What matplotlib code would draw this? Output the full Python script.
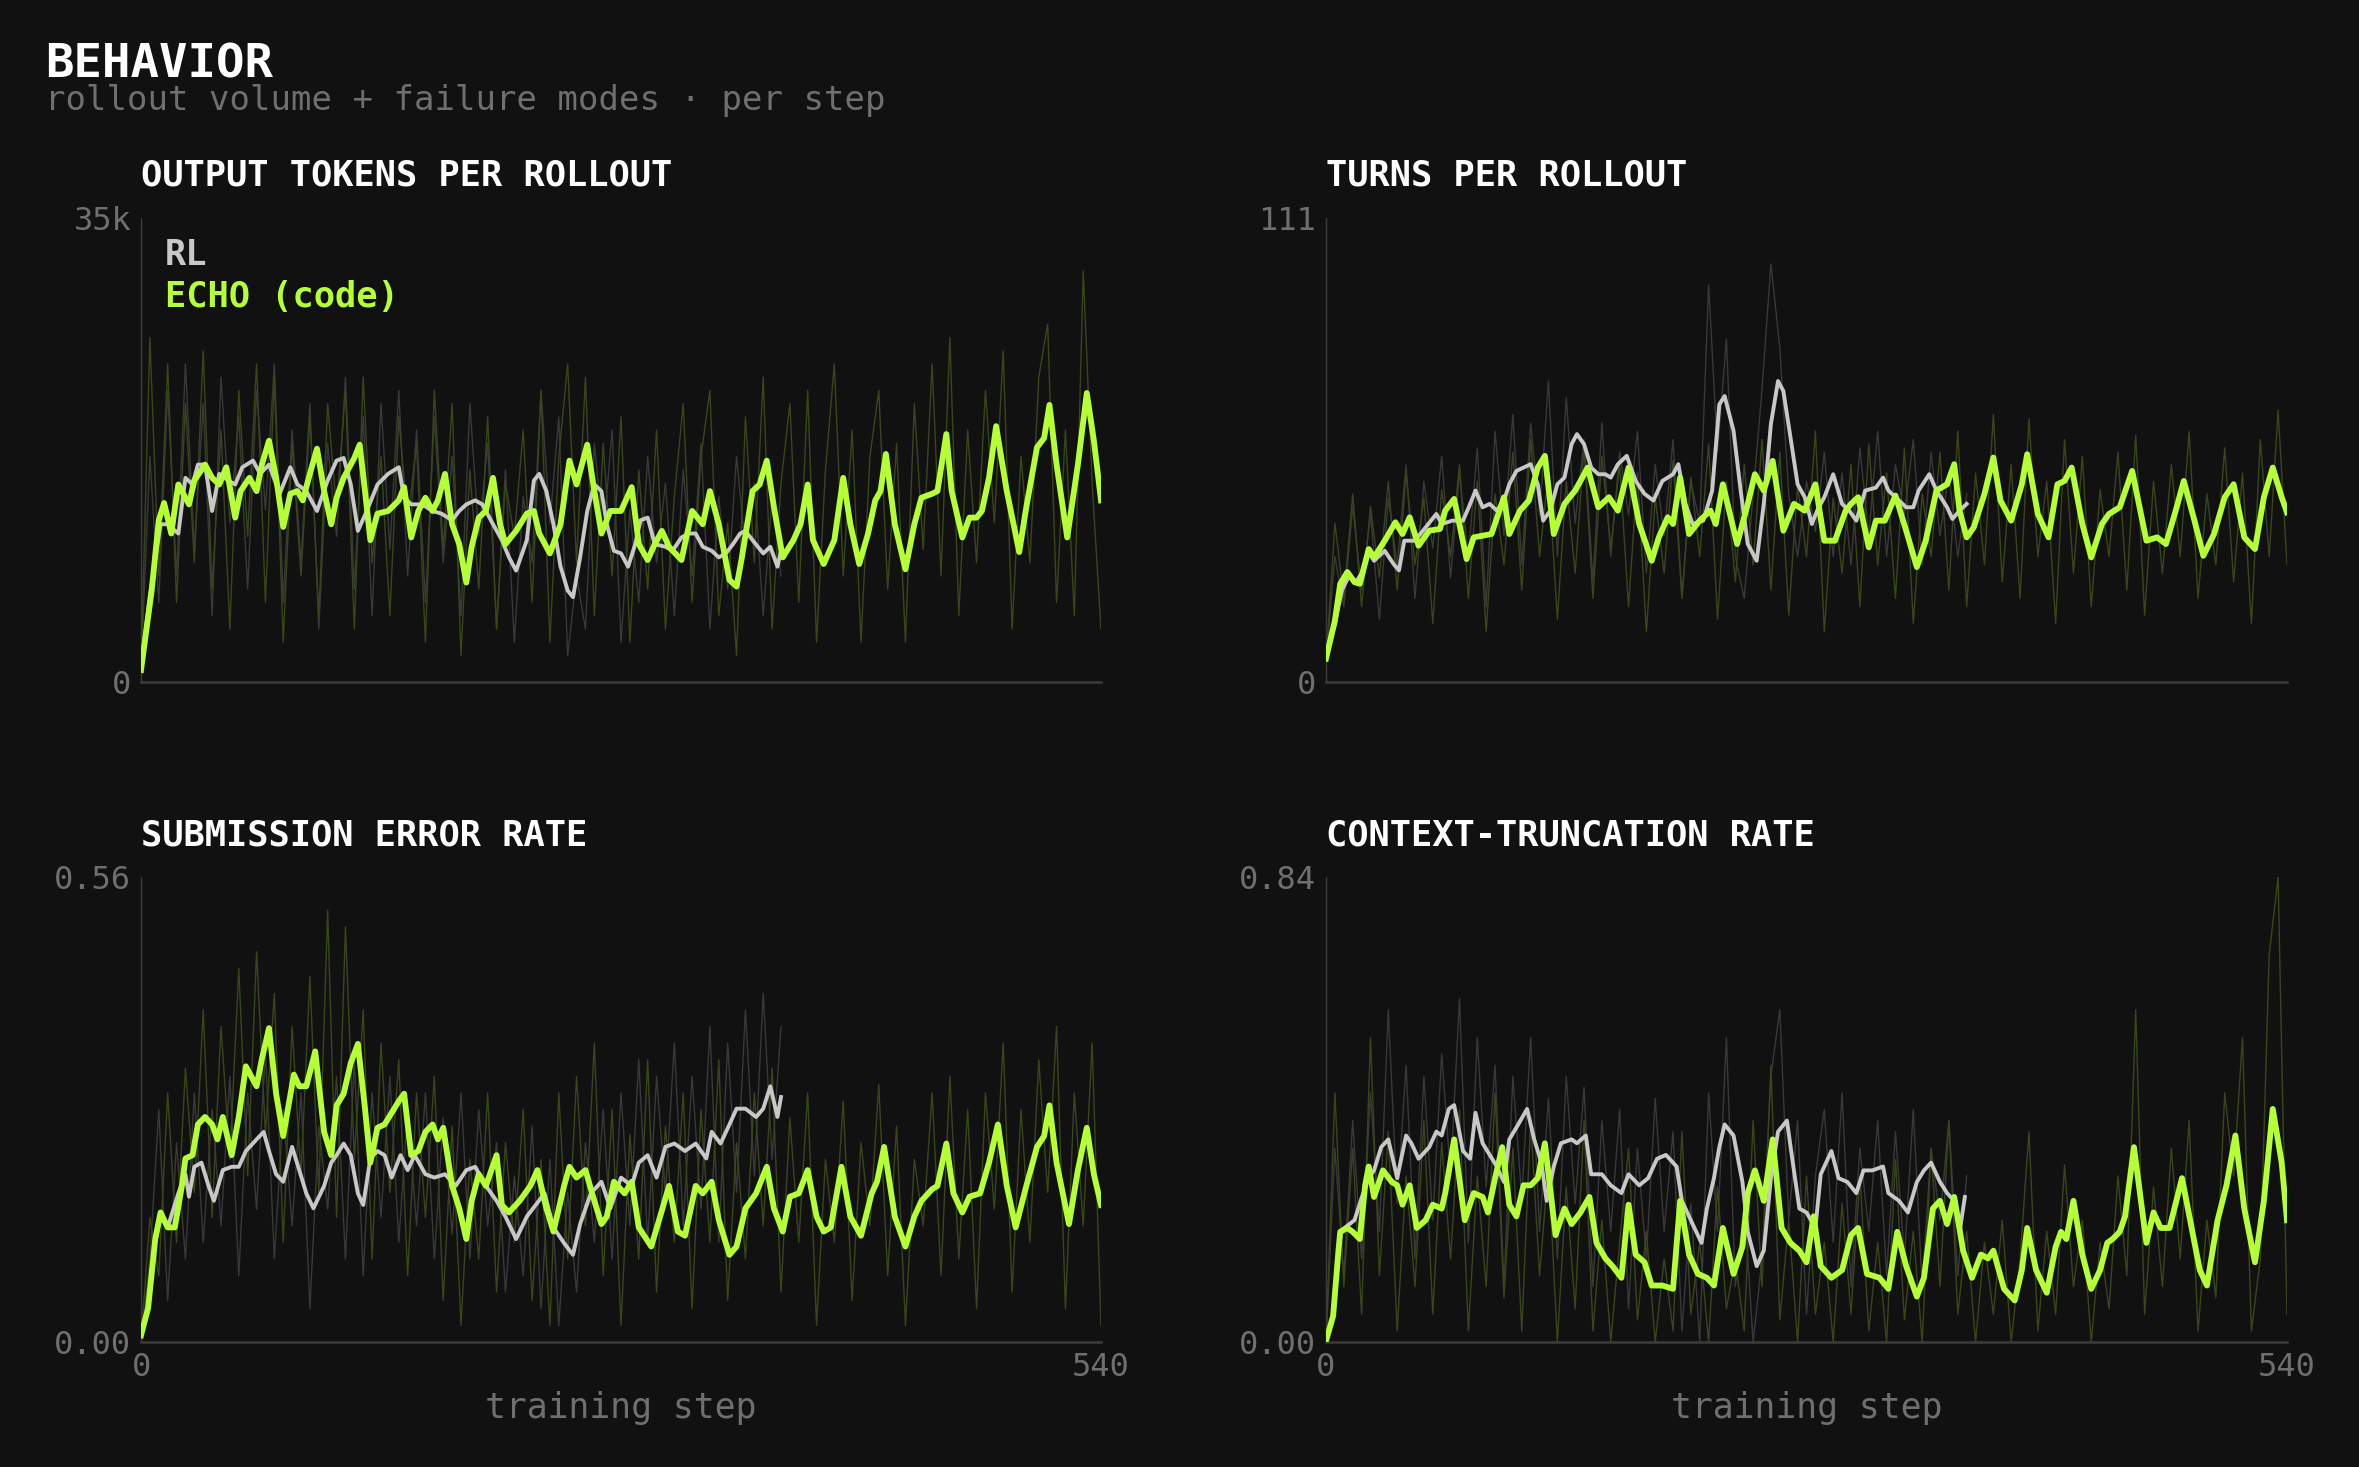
import numpy as np
import matplotlib
matplotlib.use("Agg")
import matplotlib.pyplot as plt

# ---------------- data ----------------
# smoothed curves: (training step, value)

# output tokens per rollout (thousands)
tok_echo = [(0,0.9),(6,6.9),(10,12.2),(13,13.5),(17,11.2),(21,14.9),(27,13.4),(30,15.2),(36,16.4),(40,15.4),(44,14.9),(48,16.2),(53,12.4),(56,14.4),(61,15.4),(65,14.4),(68,16.4),(72,18.2),(76,15.4),(80,11.7),(84,14.2),(88,14.4),(91,13.7),(95,15.7),(99,17.6),(103,14.4),(107,11.9),(110,13.9),(114,15.4),(120,16.9),(123,17.9),(126,14.4),(129,10.7),(133,12.7),(139,12.9),(145,13.7),(148,14.7),(152,10.9),(156,12.9),(160,13.9),(164,12.9),(167,13.7),(171,15.7),(175,11.9),(179,10.4),(183,7.5),(186,10.2),(190,12.4),(194,12.9),(198,15.4),(202,11.9),(205,10.4),(211,11.4),(217,12.7),(221,12.9),(224,11.2),(230,9.7),(236,11.9),(241,16.7),(245,14.9),(251,17.9),(255,14.4),(259,11.2),(264,12.9),(270,12.9),(276,14.7),(280,10.4),(285,9.2),(289,10.4),(293,11.4),(297,10.2),(304,9.2),(310,12.9),(316,11.9),(320,14.4),(325,11.9),(331,7.7),(335,7.2),(338,9.4),(344,14.4),(348,14.9),(352,16.7),(356,13.2),(361,9.4),(367,10.7),(371,11.9),(375,14.9),(378,10.7),(384,8.9),(390,10.7),(395,15.4),(399,11.9),(404,8.9),(409,11.2),(413,13.7),(416,14.4),(419,17.2),(424,11.9),(430,8.5),(435,11.9),(439,13.9),(445,14.2),(448,14.4),(453,18.7),(456,14.4),(462,10.9),(466,12.4),(470,12.4),(473,12.9),(477,15.4),(481,19.3),(487,14.4),(494,9.8),(498,13.2),(504,17.7),(508,18.4),(511,20.9),(515,16.4),(521,10.9),(527,16.4),(532,21.8),(536,18.2),(540,13.7)]
tok_rl = [(0,1.0),(5,6.5),(11,11.9),(15,11.9),(21,11.2),(25,15.4),(29,14.9),(32,16.4),(36,16.4),(40,12.9),(44,15.7),(49,15.2),(53,14.9),(57,16.2),(63,16.7),(67,15.7),(72,16.4),(78,14.2),(84,16.2),(88,14.9),(93,14.4),(99,12.9),(105,15.2),(110,16.7),(114,16.9),(118,14.9),(122,11.4),(127,12.9),(133,14.9),(139,15.7),(145,16.2),(148,13.9),(152,13.4),(158,13.4),(164,12.9),(169,12.7),(175,12.2),(179,12.9),(183,13.4),(188,13.7),(192,13.4),(198,11.9),(203,10.7),(207,9.4),(211,8.4),(217,10.7),(221,15.2),(224,15.7),(228,14.4),(232,11.9),(236,8.7),(240,6.9),(243,6.4),(247,9.4),(251,12.9),(255,14.9),(259,14.4),(262,11.9),(266,9.9),(270,9.7),(274,8.7),(278,10.4),(281,12.2),(285,12.4),(289,10.4),(295,10.2),(299,9.9),(304,10.9),(308,11.2),(312,11.2),(316,10.2),(321,9.9),(325,9.4),(329,9.7),(333,10.4),(337,11.2),(340,11.4),(344,10.7),(350,9.7),(354,10.2),(358,8.7),(360,9.9)]

# turns per rollout
turn_echo = [(0,5.6),(5,14.7),(8,23.5),(12,26.3),(16,23.9),(19,23.5),(24,31.8),(27,29.8),(33,33.8),(39,38.2),(43,35.4),(47,39.4),(52,32.6),(58,36.2),(64,36.6),(67,41.0),(72,43.8),(79,29.4),(83,34.6),(88,35.0),(93,35.4),(100,44.2),(103,35.4),(109,41.0),(114,43.4),(119,51.3),(123,54.1),(128,35.4),(134,42.6),(140,45.8),(143,48.1),(147,51.3),(153,41.8),(159,44.2),(164,41.0),(170,51.3),(176,37.8),(183,29.0),(187,34.6),(192,39.4),(195,37.8),(199,48.9),(204,35.4),(210,38.6),(216,41.0),(219,37.8),(223,47.3),(231,33.0),(237,42.6),(241,49.7),(246,45.8),(251,52.9),(257,36.2),(263,42.6),(269,41.0),(275,47.3),(280,33.8),(286,33.8),(292,41.0),(295,42.6),(299,44.2),(305,32.2),(309,38.6),(314,38.6),(320,44.6),(326,36.2),(332,27.5),(337,33.8),(343,45.8),(349,47.3),(353,52.1),(356,41.0),(360,34.6),(364,37.0),(370,45.0),(375,53.7),(379,43.4),(385,38.6),(391,47.3),(394,54.5),(400,40.2),(406,34.6),(411,47.3),(415,48.1),(419,51.3),(425,37.8),(430,29.8),(436,37.8),(440,40.2),(446,41.8),(453,50.5),(461,33.8),(467,34.6),(472,33.0),(478,41.8),(482,48.1),(488,38.6),(493,30.2),(499,35.4),(505,44.2),(510,47.3),(516,34.6),(522,31.8),(527,44.2),(532,51.3),(537,44.2),(540,40.6)]
turn_rl = [(0,5.6),(5,14.0),(9,22.0),(13,25.5),(17,24.0),(20,26.0),(24,31.0),(27,29.0),(33,31.4),(38,28.2),(41,26.7),(44,33.8),(50,33.8),(56,37.0),(62,40.2),(65,37.8),(71,38.6),(77,38.6),(81,42.6),(84,45.8),(88,41.8),(92,42.6),(96,41.0),(100,43.4),(103,47.3),(107,50.5),(111,51.3),(115,52.1),(119,47.3),(122,38.6),(126,41.0),(130,47.3),(134,48.9),(138,56.9),(141,59.3),(145,56.9),(149,51.3),(153,49.7),(157,49.7),(160,48.9),(164,52.1),(169,54.1),(174,48.1),(179,45.0),(184,43.4),(189,48.1),(195,49.7),(198,52.1),(202,42.6),(206,37.8),(212,38.6),(217,45.8),(221,66.4),(224,68.4),(229,60.1),(233,45.8),(237,33.0),(242,29.0),(246,42.6),(250,61.7),(254,72.0),(257,69.6),(261,58.5),(265,47.3),(269,44.2),(273,37.8),(276,41.0),(280,44.2),(285,49.7),(290,42.6),(294,41.0),(298,38.6),(303,45.8),(309,46.5),(313,48.9),(316,45.8),(320,44.2),(326,41.8),(330,41.8),(333,45.8),(339,49.7),(343,45.8),(349,41.8),(352,39.0),(356,41.0),(360,42.6)]

# submission error rate
err_echo = [(0,0.008),(4,0.041),(8,0.124),(11,0.156),(15,0.138),(19,0.138),(23,0.188),(25,0.221),(29,0.225),(32,0.262),(36,0.271),(40,0.262),(43,0.244),(46,0.271),(51,0.225),(55,0.271),(59,0.332),(65,0.308),(68,0.341),(72,0.378),(76,0.299),(80,0.248),(86,0.322),(89,0.308),(93,0.308),(98,0.350),(103,0.253),(107,0.225),(110,0.285),(114,0.299),(118,0.336),(122,0.359),(126,0.281),(129,0.216),(133,0.258),(137,0.262),(141,0.276),(145,0.290),(148,0.299),(152,0.225),(156,0.230),(160,0.253),(164,0.262),(167,0.244),(170,0.258),(175,0.188),(179,0.161),(183,0.124),(186,0.170),(190,0.202),(194,0.188),(200,0.225),(203,0.165),(207,0.156),(213,0.170),(219,0.188),(223,0.207),(228,0.161),(232,0.133),(238,0.188),(241,0.211),(245,0.198),(250,0.207),(255,0.170),(259,0.142),(262,0.151),(266,0.193),(272,0.179),(276,0.193),(280,0.138),(287,0.115),(292,0.151),(297,0.188),(302,0.133),(306,0.128),(312,0.188),(316,0.179),(321,0.193),(325,0.147),(331,0.105),(335,0.115),(340,0.161),(346,0.179),(352,0.211),(356,0.161),(361,0.133),(365,0.175),(370,0.179),(375,0.207),(380,0.151),(384,0.133),(388,0.138),(394,0.211),(399,0.151),(405,0.128),(411,0.179),(414,0.193),(418,0.235),(424,0.151),(430,0.115),(435,0.151),(439,0.170),(445,0.184),(448,0.188),(453,0.239),(457,0.179),(462,0.156),(466,0.175),(472,0.179),(477,0.216),(482,0.262),(487,0.188),(492,0.138),(498,0.188),(504,0.235),(508,0.248),(511,0.285),(515,0.216),(522,0.142),(527,0.207),(532,0.258),(536,0.202),(540,0.165)]
err_rl = [(0,0.008),(4,0.040),(8,0.120),(11,0.151),(15,0.138),(21,0.179),(25,0.202),(27,0.175),(30,0.211),(34,0.216),(38,0.188),(41,0.170),(46,0.207),(51,0.211),(55,0.211),(59,0.230),(65,0.244),(69,0.253),(72,0.230),(76,0.202),(80,0.193),(85,0.235),(89,0.207),(93,0.179),(97,0.161),(103,0.188),(107,0.216),(110,0.225),(114,0.239),(118,0.225),(122,0.179),(125,0.165),(129,0.221),(133,0.230),(137,0.225),(141,0.198),(146,0.225),(150,0.207),(154,0.225),(160,0.202),(165,0.198),(171,0.202),(177,0.188),(183,0.207),(188,0.211),(194,0.188),(200,0.170),(205,0.151),(211,0.124),(217,0.151),(222,0.165),(227,0.179),(232,0.138),(238,0.119),(243,0.105),(247,0.142),(253,0.179),(259,0.193),(264,0.161),(270,0.198),(276,0.188),(280,0.216),(285,0.225),(290,0.198),(295,0.235),(300,0.239),(306,0.230),(312,0.239),(318,0.221),(321,0.253),(326,0.239),(331,0.262),(335,0.281),(340,0.281),(346,0.271),(350,0.281),(354,0.308),(358,0.271),(360,0.295)]

# context-truncation rate
trunc_echo = [(0,0.002),(4,0.047),(7,0.165),(8,0.199),(12,0.206),(15,0.199),(19,0.186),(22,0.283),(24,0.317),(27,0.262),(32,0.310),(37,0.289),(40,0.283),(43,0.248),(47,0.283),(51,0.206),(56,0.220),(60,0.248),(65,0.241),(67,0.269),(72,0.366),(78,0.220),(83,0.269),(88,0.262),(91,0.234),(95,0.296),(99,0.352),(103,0.248),(107,0.227),(111,0.283),(115,0.283),(119,0.296),(123,0.359),(126,0.276),(129,0.193),(134,0.241),(138,0.213),(143,0.234),(148,0.262),(152,0.179),(157,0.151),(161,0.137),(166,0.116),(170,0.248),(174,0.158),(179,0.144),(183,0.102),(189,0.102),(195,0.096),(199,0.255),(204,0.158),(209,0.123),(214,0.116),(218,0.102),(223,0.206),(229,0.123),(234,0.172),(237,0.269),(241,0.310),(246,0.255),(251,0.366),(256,0.206),(261,0.179),(266,0.165),(270,0.144),(274,0.227),(278,0.137),(284,0.116),(290,0.130),(295,0.193),(299,0.206),(304,0.123),(311,0.116),(316,0.096),(321,0.199),(326,0.137),(332,0.082),(336,0.116),(341,0.241),(345,0.255),(349,0.213),(353,0.262),(358,0.165),(363,0.116),(368,0.158),(372,0.151),(375,0.165),(381,0.096),(387,0.075),(391,0.130),(394,0.206),(399,0.130),(405,0.089),(410,0.172),(413,0.199),(416,0.186),(420,0.255),(425,0.158),(430,0.096),(435,0.130),(439,0.179),(442,0.186),(446,0.199),(449,0.227),(454,0.352),(461,0.179),(465,0.234),(469,0.206),(474,0.206),(481,0.296),(486,0.213),(491,0.130),(495,0.102),(501,0.220),(506,0.283),(511,0.373),(516,0.241),(522,0.144),(527,0.255),(532,0.421),(537,0.324),(540,0.220)]
trunc_rl = [(0,0.002),(4,0.050),(8,0.200),(12,0.210),(16,0.220),(20,0.260),(24,0.296),(27,0.310),(31,0.352),(35,0.366),(40,0.296),(45,0.373),(48,0.359),(52,0.331),(58,0.352),(62,0.380),(65,0.373),(69,0.421),(72,0.428),(77,0.345),(81,0.331),(84,0.414),(88,0.359),(92,0.338),(96,0.317),(100,0.289),(103,0.366),(108,0.393),(113,0.421),(117,0.366),(121,0.324),(124,0.255),(128,0.317),(132,0.359),(138,0.366),(141,0.359),(146,0.373),(149,0.303),(155,0.303),(160,0.283),(166,0.269),(170,0.303),(176,0.283),(181,0.296),(186,0.331),(191,0.338),(197,0.317),(200,0.255),(206,0.213),(211,0.179),(214,0.241),(218,0.296),(221,0.352),(224,0.393),(229,0.373),(234,0.289),(237,0.199),(242,0.137),(246,0.165),(250,0.296),(254,0.380),(259,0.400),(262,0.331),(266,0.241),(270,0.234),(275,0.206),(278,0.303),(284,0.345),(288,0.296),(293,0.289),(298,0.269),(302,0.310),(307,0.310),(313,0.317),(316,0.269),(322,0.255),(327,0.234),(332,0.289),(336,0.310),(340,0.324),(345,0.289),(349,0.269),(353,0.255),(356,0.199),(359,0.262)]

# raw per-step traces, one value every 5 steps (ECHO 0..540, RL 0..360)
tok_echo_raw = [1,26,8,24,6,21,9,25,7,19,4,22,11,24,6,23,3,18,8,20,5,21,13,22,4,23,9,17,5,20,12,18,3,22,10,21,2,16,7,20,4,15,11,19,6,22,3,17,24,9,23,5,18,8,20,3,16,7,19,4,14,21,6,17,22,5,12,2,20,9,23,4,15,21,6,22,3,16,24,8,19,3,17,22,7,18,3,21,10,24,8,26,5,19,9,22,12,25,4,17,9,23,27,6,19,5,31,15,4]
tok_rl_raw = [1,17,6,22,8,24,10,21,5,23,12,20,7,22,13,24,6,19,9,21,4,18,11,23,7,20,5,21,10,22,8,19,6,20,9,17,5,21,11,18,4,16,3,14,9,22,12,20,2,8,4,18,11,19,3,13,6,17,9,15,5,16,8,18,4,14,7,17,10,15,5,14,8]
turn_echo_raw = [5,38,20,45,18,42,25,48,22,50,28,44,14,46,30,52,20,48,12,45,28,55,22,58,30,50,15,48,26,56,20,54,32,52,18,50,12,44,26,53,20,49,30,57,15,48,24,52,28,58,22,55,16,47,30,60,12,44,26,52,18,57,28,50,20,56,14,45,30,55,22,60,18,50,28,64,24,52,20,63,30,48,14,58,26,54,18,46,30,55,22,59,16,48,26,52,30,60,20,45,28,56,24,50,14,58,30,65,28]
turn_rl_raw = [5,30,18,42,22,40,15,44,28,52,20,48,32,54,25,50,30,56,18,60,35,64,28,62,40,72,30,68,38,58,24,62,30,55,40,60,26,52,35,58,20,48,38,95,55,82,30,20,45,70,100,80,45,30,48,36,55,30,50,28,56,35,60,30,52,40,58,28,55,35,50,30,45]
err_echo_raw = [0.0,0.15,0.08,0.30,0.12,0.33,0.18,0.40,0.15,0.38,0.22,0.45,0.20,0.47,0.25,0.42,0.12,0.38,0.20,0.44,0.18,0.52,0.15,0.50,0.22,0.40,0.10,0.36,0.18,0.34,0.08,0.30,0.15,0.32,0.05,0.26,0.02,0.22,0.10,0.30,0.06,0.24,0.12,0.28,0.05,0.22,0.02,0.30,0.10,0.32,0.14,0.36,0.08,0.28,0.02,0.25,0.10,0.34,0.06,0.26,0.12,0.30,0.04,0.28,0.12,0.34,0.05,0.24,0.10,0.30,0.14,0.33,0.06,0.27,0.12,0.30,0.02,0.22,0.12,0.29,0.05,0.24,0.14,0.31,0.08,0.26,0.02,0.22,0.14,0.30,0.08,0.32,0.10,0.28,0.04,0.30,0.16,0.36,0.06,0.28,0.12,0.34,0.18,0.38,0.04,0.30,0.14,0.36,0.02]
err_rl_raw = [0.0,0.10,0.28,0.05,0.24,0.10,0.30,0.12,0.28,0.14,0.32,0.08,0.30,0.16,0.35,0.10,0.28,0.14,0.30,0.04,0.26,0.16,0.32,0.10,0.34,0.08,0.30,0.15,0.32,0.12,0.28,0.14,0.30,0.10,0.27,0.13,0.30,0.10,0.28,0.14,0.24,0.06,0.20,0.08,0.26,0.04,0.22,0.02,0.18,0.06,0.24,0.12,0.28,0.10,0.30,0.14,0.34,0.12,0.32,0.18,0.36,0.14,0.32,0.16,0.38,0.12,0.36,0.18,0.40,0.20,0.42,0.22,0.38]
trunc_echo_raw = [0.0,0.45,0.10,0.35,0.05,0.55,0.12,0.38,0.02,0.30,0.10,0.40,0.05,0.36,0.15,0.42,0.02,0.30,0.10,0.45,0.08,0.35,0.02,0.40,0.12,0.32,0.0,0.28,0.06,0.40,0.02,0.22,0.0,0.18,0.35,0.04,0.20,0.0,0.15,0.02,0.38,0.05,0.18,0.0,0.28,0.06,0.15,0.02,0.40,0.10,0.50,0.04,0.22,0.0,0.30,0.05,0.18,0.0,0.25,0.05,0.30,0.02,0.18,0.0,0.33,0.04,0.20,0.0,0.35,0.10,0.40,0.05,0.20,0.0,0.18,0.05,0.22,0.0,0.15,0.38,0.02,0.20,0.05,0.32,0.10,0.22,0.0,0.18,0.06,0.30,0.12,0.60,0.05,0.28,0.10,0.35,0.15,0.40,0.02,0.22,0.08,0.45,0.30,0.55,0.02,0.15,0.70,0.84,0.05]
trunc_rl_raw = [0.0,0.35,0.12,0.40,0.15,0.45,0.20,0.60,0.25,0.50,0.15,0.48,0.22,0.52,0.30,0.62,0.18,0.55,0.28,0.50,0.10,0.48,0.26,0.55,0.20,0.44,0.15,0.48,0.25,0.46,0.10,0.40,0.20,0.42,0.06,0.35,0.15,0.44,0.20,0.38,0.02,0.25,0.0,0.45,0.20,0.55,0.10,0.25,0.0,0.15,0.48,0.60,0.22,0.40,0.05,0.30,0.42,0.18,0.45,0.10,0.35,0.20,0.40,0.12,0.38,0.15,0.42,0.10,0.35,0.22,0.40,0.12,0.30]

panel_titles = ["OUTPUT TOKENS PER ROLLOUT", "TURNS PER ROLLOUT",
                "SUBMISSION ERROR RATE", "CONTEXT-TRUNCATION RATE"]
y_max = [35, 111, 0.56, 0.84]
y_tick_labels = [["0", "35k"], ["0", "111"], ["0.00", "0.56"], ["0.00", "0.84"]]
x_max = 540

# ---------------- style ----------------
BG = "#111111"
LIME = "#b6ff36"
GRAY = "#c8c8c8"
LIME_RAW = "#38461c"
GRAY_RAW = "#393939"
SPINE = "#3c3c3c"
MUTED = "#6f6f6f"
FONT = "DejaVu Sans Mono"

W, H = 2359, 1467


def fx(px):
    return px / W


def fy(py):
    return 1 - py / H


def draw_panel(ax, echo, rl, echo_raw, rl_raw, ymax, ylabels, show_x):
    ax.set_facecolor(BG)
    ex = np.arange(len(echo_raw)) * 5
    rx = np.arange(len(rl_raw)) * 5
    ax.plot(rx, rl_raw, color=GRAY_RAW, lw=1.0, zorder=1)
    ax.plot(ex, echo_raw, color=LIME_RAW, lw=1.0, zorder=2)

    s, v = np.array(rl).T
    ax.plot(s, v, color=GRAY, lw=2.8, zorder=3, solid_joinstyle="round")
    s, v = np.array(echo).T
    ax.plot(s, v, color=LIME, lw=4.2, zorder=4, solid_joinstyle="round")

    ax.set_xlim(0, x_max)
    ax.set_ylim(0, ymax)
    for side in ["top", "right"]:
        ax.spines[side].set_visible(False)
    ax.spines["left"].set_color(SPINE)
    ax.spines["left"].set_linewidth(1.0)
    ax.spines["bottom"].set_color(SPINE)
    ax.spines["bottom"].set_linewidth(1.8)

    ax.set_yticks([0, ymax])
    ax.set_yticklabels(ylabels)
    if show_x:
        ax.set_xticks([0, x_max])
        ax.set_xticklabels(["0", str(x_max)])
    else:
        ax.set_xticks([])
    ax.tick_params(length=0, colors=MUTED, labelsize=23, pad=7)
    for lab in ax.get_xticklabels() + ax.get_yticklabels():
        lab.set_fontfamily(FONT)


def main():
    fig = plt.figure(figsize=(W / 100, H / 100), dpi=100, facecolor=BG)

    fig.text(fx(45), fy(77), "BEHAVIOR", color="white", fontsize=34,
             family=FONT, weight="bold", va="baseline", ha="left")
    fig.text(fx(45), fy(110), "rollout volume + failure modes \u00b7 per step",
             color=MUTED, fontsize=24.5, family=FONT, va="baseline", ha="left")

    boxes = [
        [fx(141), fy(682), fx(960), 464 / H],
        [fx(1326), fy(682), fx(961), 464 / H],
        [fx(141), fy(1342), fx(960), 465 / H],
        [fx(1326), fy(1342), fx(961), 465 / H],
    ]
    title_base = [186, 186, 846, 846]
    series = [
        (tok_echo, tok_rl, tok_echo_raw, tok_rl_raw),
        (turn_echo, turn_rl, turn_echo_raw, turn_rl_raw),
        (err_echo, err_rl, err_echo_raw, err_rl_raw),
        (trunc_echo, trunc_rl, trunc_echo_raw, trunc_rl_raw),
    ]

    for i in range(4):
        ax = fig.add_axes(boxes[i])
        echo, rl, echo_raw, rl_raw = series[i]
        draw_panel(ax, echo, rl, echo_raw, rl_raw, y_max[i], y_tick_labels[i], i >= 2)
        fig.text(boxes[i][0], fy(title_base[i]), panel_titles[i], color="white",
                 fontsize=25.5, family=FONT, weight="bold", va="baseline", ha="left")
        if i >= 2:
            fig.text(boxes[i][0] + boxes[i][2] / 2, fy(1418), "training step",
                     color=MUTED, fontsize=25, family=FONT, va="baseline", ha="center")
        if i == 0:
            ax.text(0.025, (682 - 265) / 464, "RL", color=GRAY, fontsize=25.5,
                    family=FONT, weight="bold", transform=ax.transAxes,
                    va="baseline", zorder=6)
            ax.text(0.025, (682 - 307) / 464, "ECHO (code)", color=LIME, fontsize=25.5,
                    family=FONT, weight="bold", transform=ax.transAxes,
                    va="baseline", zorder=6)

    fig.savefig("out.png", dpi=100, facecolor=BG)


if __name__ == '__main__':
    main()
